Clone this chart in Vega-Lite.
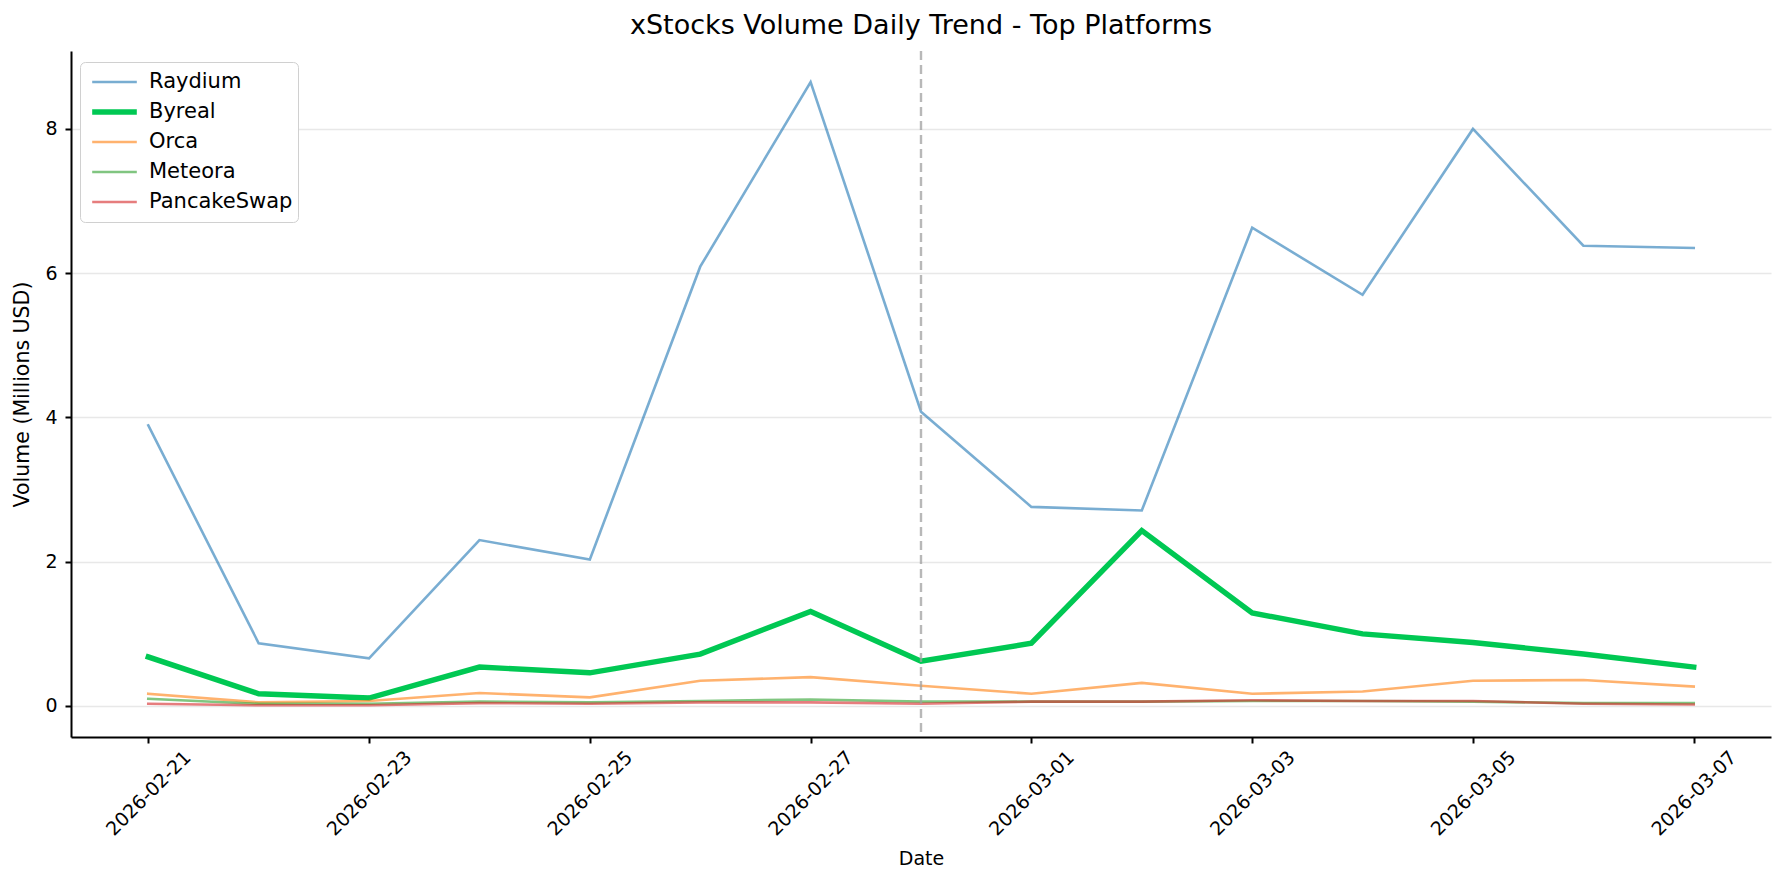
{
  "$schema": "https://vega.github.io/schema/vega-lite/v6.json",
  "description": "xStocks volume daily trend for the top platforms",
  "autosize": {"type": "none"},
  "padding": {"left": 71, "top": 51, "right": 13, "bottom": 148},
  "width": 1700,
  "height": 686,
  "background": "white",
  "config": {
    "font": "DejaVu Sans",
    "view": {"stroke": null},
    "axis": {
      "domainColor": "#000000",
      "domainWidth": 2,
      "tickColor": "#000000",
      "tickWidth": 2,
      "tickSize": 6,
      "labelColor": "#000000",
      "labelFontSize": 19,
      "titleColor": "#000000",
      "titleFontSize": 19,
      "titleFontWeight": "normal"
    }
  },
  "title": {
    "text": "xStocks Volume Daily Trend - Top Platforms",
    "fontSize": 27,
    "fontWeight": "normal",
    "color": "#000000",
    "anchor": "middle",
    "offset": 10
  },
  "layer": [
    {
      "data": {
        "values": [
          {"date": "2026-02-21", "platform": "Raydium", "volume": 3.89},
          {"date": "2026-02-22", "platform": "Raydium", "volume": 0.87},
          {"date": "2026-02-23", "platform": "Raydium", "volume": 0.66},
          {"date": "2026-02-24", "platform": "Raydium", "volume": 2.30},
          {"date": "2026-02-25", "platform": "Raydium", "volume": 2.03},
          {"date": "2026-02-26", "platform": "Raydium", "volume": 6.09},
          {"date": "2026-02-27", "platform": "Raydium", "volume": 8.65},
          {"date": "2026-02-28", "platform": "Raydium", "volume": 4.08},
          {"date": "2026-03-01", "platform": "Raydium", "volume": 2.76},
          {"date": "2026-03-02", "platform": "Raydium", "volume": 2.71},
          {"date": "2026-03-03", "platform": "Raydium", "volume": 6.63},
          {"date": "2026-03-04", "platform": "Raydium", "volume": 5.70},
          {"date": "2026-03-05", "platform": "Raydium", "volume": 8.00},
          {"date": "2026-03-06", "platform": "Raydium", "volume": 6.38},
          {"date": "2026-03-07", "platform": "Raydium", "volume": 6.35},
          {"date": "2026-02-21", "platform": "Byreal", "volume": 0.68},
          {"date": "2026-02-22", "platform": "Byreal", "volume": 0.17},
          {"date": "2026-02-23", "platform": "Byreal", "volume": 0.11},
          {"date": "2026-02-24", "platform": "Byreal", "volume": 0.54},
          {"date": "2026-02-25", "platform": "Byreal", "volume": 0.46},
          {"date": "2026-02-26", "platform": "Byreal", "volume": 0.72},
          {"date": "2026-02-27", "platform": "Byreal", "volume": 1.31},
          {"date": "2026-02-28", "platform": "Byreal", "volume": 0.62},
          {"date": "2026-03-01", "platform": "Byreal", "volume": 0.87},
          {"date": "2026-03-02", "platform": "Byreal", "volume": 2.43},
          {"date": "2026-03-03", "platform": "Byreal", "volume": 1.29},
          {"date": "2026-03-04", "platform": "Byreal", "volume": 1.00},
          {"date": "2026-03-05", "platform": "Byreal", "volume": 0.88},
          {"date": "2026-03-06", "platform": "Byreal", "volume": 0.72},
          {"date": "2026-03-07", "platform": "Byreal", "volume": 0.54},
          {"date": "2026-02-21", "platform": "Orca", "volume": 0.17},
          {"date": "2026-02-22", "platform": "Orca", "volume": 0.05},
          {"date": "2026-02-23", "platform": "Orca", "volume": 0.07},
          {"date": "2026-02-24", "platform": "Orca", "volume": 0.18},
          {"date": "2026-02-25", "platform": "Orca", "volume": 0.12},
          {"date": "2026-02-26", "platform": "Orca", "volume": 0.35},
          {"date": "2026-02-27", "platform": "Orca", "volume": 0.40},
          {"date": "2026-02-28", "platform": "Orca", "volume": 0.28},
          {"date": "2026-03-01", "platform": "Orca", "volume": 0.17},
          {"date": "2026-03-02", "platform": "Orca", "volume": 0.32},
          {"date": "2026-03-03", "platform": "Orca", "volume": 0.17},
          {"date": "2026-03-04", "platform": "Orca", "volume": 0.20},
          {"date": "2026-03-05", "platform": "Orca", "volume": 0.35},
          {"date": "2026-03-06", "platform": "Orca", "volume": 0.36},
          {"date": "2026-03-07", "platform": "Orca", "volume": 0.27},
          {"date": "2026-02-21", "platform": "Meteora", "volume": 0.10},
          {"date": "2026-02-22", "platform": "Meteora", "volume": 0.03},
          {"date": "2026-02-23", "platform": "Meteora", "volume": 0.03},
          {"date": "2026-02-24", "platform": "Meteora", "volume": 0.06},
          {"date": "2026-02-25", "platform": "Meteora", "volume": 0.05},
          {"date": "2026-02-26", "platform": "Meteora", "volume": 0.07},
          {"date": "2026-02-27", "platform": "Meteora", "volume": 0.09},
          {"date": "2026-02-28", "platform": "Meteora", "volume": 0.06},
          {"date": "2026-03-01", "platform": "Meteora", "volume": 0.06},
          {"date": "2026-03-02", "platform": "Meteora", "volume": 0.06},
          {"date": "2026-03-03", "platform": "Meteora", "volume": 0.07},
          {"date": "2026-03-04", "platform": "Meteora", "volume": 0.07},
          {"date": "2026-03-05", "platform": "Meteora", "volume": 0.06},
          {"date": "2026-03-06", "platform": "Meteora", "volume": 0.04},
          {"date": "2026-03-07", "platform": "Meteora", "volume": 0.04},
          {"date": "2026-02-21", "platform": "PancakeSwap", "volume": 0.03},
          {"date": "2026-02-22", "platform": "PancakeSwap", "volume": 0.01},
          {"date": "2026-02-23", "platform": "PancakeSwap", "volume": 0.01},
          {"date": "2026-02-24", "platform": "PancakeSwap", "volume": 0.04},
          {"date": "2026-02-25", "platform": "PancakeSwap", "volume": 0.03},
          {"date": "2026-02-26", "platform": "PancakeSwap", "volume": 0.05},
          {"date": "2026-02-27", "platform": "PancakeSwap", "volume": 0.05},
          {"date": "2026-02-28", "platform": "PancakeSwap", "volume": 0.03},
          {"date": "2026-03-01", "platform": "PancakeSwap", "volume": 0.06},
          {"date": "2026-03-02", "platform": "PancakeSwap", "volume": 0.06},
          {"date": "2026-03-03", "platform": "PancakeSwap", "volume": 0.08},
          {"date": "2026-03-04", "platform": "PancakeSwap", "volume": 0.07},
          {"date": "2026-03-05", "platform": "PancakeSwap", "volume": 0.07},
          {"date": "2026-03-06", "platform": "PancakeSwap", "volume": 0.03},
          {"date": "2026-03-07", "platform": "PancakeSwap", "volume": 0.02}
        ]
      },
      "mark": {"type": "line", "strokeCap": "square", "strokeJoin": "miter"},
      "encoding": {
        "x": {
          "field": "date",
          "type": "temporal",
          "scale": {
            "type": "utc",
            "domain": [
              {"year": 2026, "month": 2, "date": 20, "hours": 7, "minutes": 12, "utc": true},
              {"year": 2026, "month": 3, "date": 7, "hours": 16, "minutes": 48, "utc": true}
            ]
          },
          "axis": {
            "title": "Date",
            "format": "%Y-%m-%d",
            "labelAngle": -45,
            "labelAlign": "center",
            "labelBaseline": "middle",
            "labelPadding": 50,
            "titlePadding": 10,
            "grid": false,
            "values": [
              {"year": 2026, "month": 2, "date": 21, "utc": true},
              {"year": 2026, "month": 2, "date": 23, "utc": true},
              {"year": 2026, "month": 2, "date": 25, "utc": true},
              {"year": 2026, "month": 2, "date": 27, "utc": true},
              {"year": 2026, "month": 3, "date": 1, "utc": true},
              {"year": 2026, "month": 3, "date": 3, "utc": true},
              {"year": 2026, "month": 3, "date": 5, "utc": true},
              {"year": 2026, "month": 3, "date": 7, "utc": true}
            ]
          }
        },
        "y": {
          "field": "volume",
          "type": "quantitative",
          "scale": {"domain": [-0.43, 9.08], "nice": false, "zero": false},
          "axis": {
            "title": "Volume (Millions USD)",
            "titleFontSize": 20.5,
            "values": [0, 2, 4, 6, 8],
            "grid": true,
            "gridColor": "#e8e8e8",
            "gridWidth": 1.5,
            "labelPadding": 8,
            "titlePadding": 12
          }
        },
        "color": {
          "field": "platform",
          "type": "nominal",
          "sort": ["Raydium", "Byreal", "Orca", "Meteora", "PancakeSwap"],
          "scale": {
            "domain": ["Raydium", "Byreal", "Orca", "Meteora", "PancakeSwap"],
            "range": ["#1f77b4", "#00c853", "#ff7f0e", "#2ca02c", "#d62728"]
          },
          "legend": {
            "title": null,
            "orient": "none",
            "legendX": 9,
            "legendY": 11,
            "symbolType": "stroke",
            "symbolSize": 1990,
            "symbolOffset": 4,
            "clipHeight": 30,
            "rowPadding": 0,
            "labelFontSize": 21,
            "labelColor": "#000000",
            "labelOffset": 9,
            "padding": 5,
            "strokeColor": "#d0d0d0",
            "fillColor": "#ffffff",
            "cornerRadius": 5
          }
        },
        "strokeWidth": {
          "field": "platform",
          "type": "nominal",
          "scale": {
            "type": "ordinal",
            "domain": ["Raydium", "Byreal", "Orca", "Meteora", "PancakeSwap"],
            "range": [2.6, 5.4, 2.6, 2.6, 2.6]
          },
          "legend": null
        },
        "opacity": {
          "field": "platform",
          "type": "nominal",
          "scale": {
            "type": "ordinal",
            "domain": ["Raydium", "Byreal", "Orca", "Meteora", "PancakeSwap"],
            "range": [0.6, 1, 0.6, 0.6, 0.6]
          },
          "legend": null
        }
      }
    },
    {
      "data": {"values": [{"date": "2026-02-28"}]},
      "mark": {"type": "rule", "color": "#a0a0a0", "opacity": 0.75, "strokeWidth": 2.4, "strokeDash": [9, 5]},
      "encoding": {
        "x": {"field": "date", "type": "temporal"}
      }
    }
  ]
}
